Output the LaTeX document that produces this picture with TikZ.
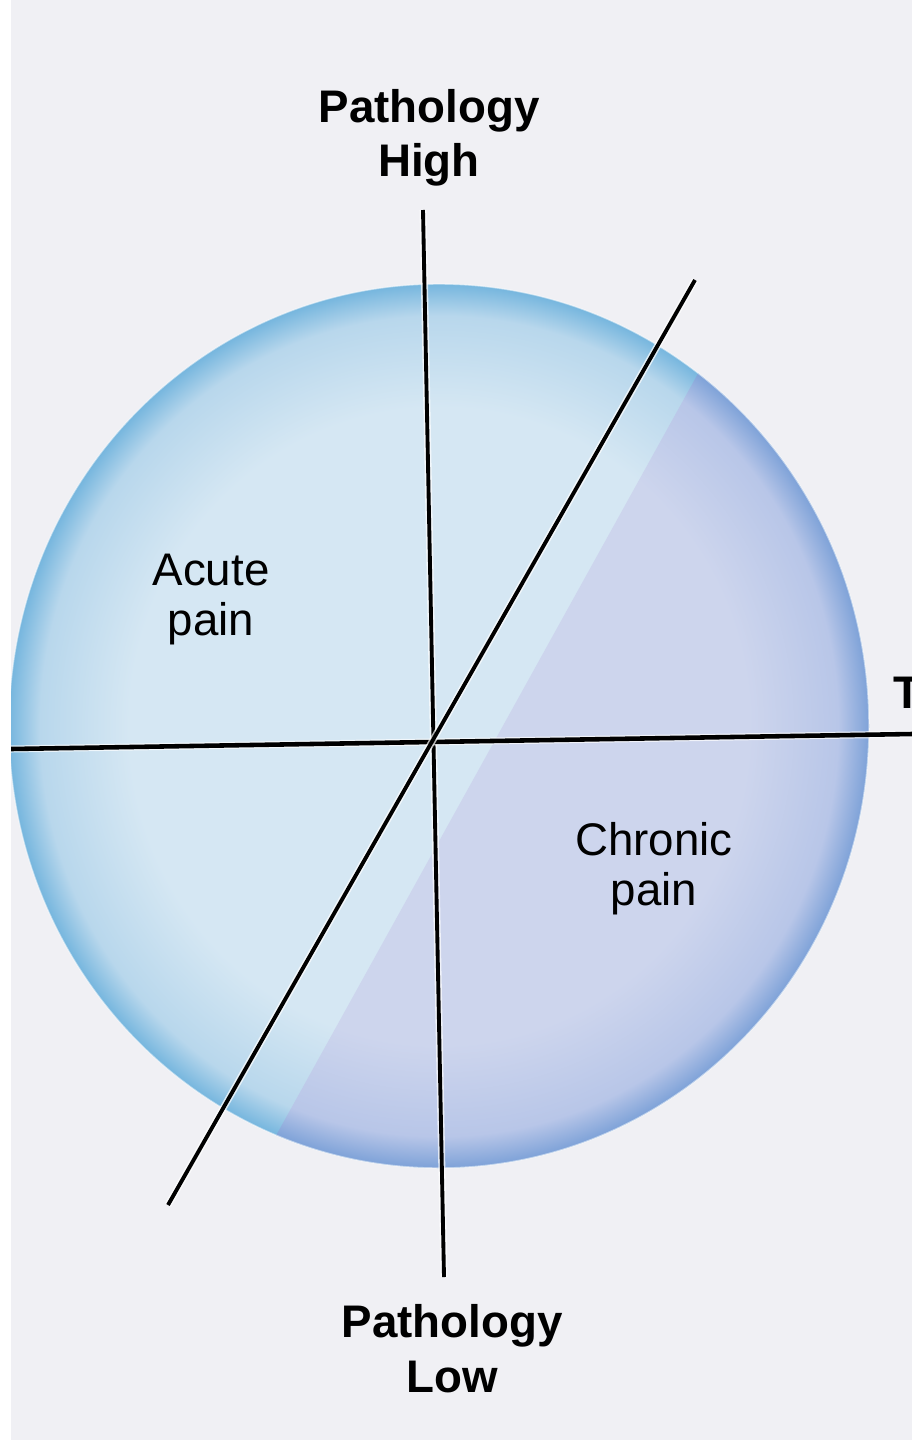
\documentclass[tikz,border=0pt]{standalone}
\usepackage{fontspec}
\setmainfont{Liberation Sans}
\usepackage{xcolor}
\definecolor{paper}{RGB}{240,240,244}
\definecolor{acutein}{RGB}{213,231,243}
\definecolor{acutemid}{RGB}{184,215,236}
\definecolor{acuterim}{RGB}{118,182,222}
\definecolor{chronin}{RGB}{205,213,237}
\definecolor{chronmid}{RGB}{184,198,232}
\definecolor{chronrim}{RGB}{126,162,216}
\pgfdeclareradialshading{acutedisc}{\pgfpoint{0bp}{0bp}}{color(0bp)=(acutein); color(18bp)=(acutein); color(23.2bp)=(acutemid); color(25bp)=(acuterim); color(50bp)=(acuterim)}
\pgfdeclareradialshading{chronicdisc}{\pgfpoint{0bp}{0bp}}{color(0bp)=(chronin); color(18bp)=(chronin); color(23.2bp)=(chronmid); color(25bp)=(chronrim); color(50bp)=(chronrim)}

\begin{document}
\begin{tikzpicture}[x=0.02cm, y=-0.02cm,
  axis/.style={line width=2.2pt, preaction={draw=white, line width=4pt, opacity=0.7}},
  heading/.style={font=\fontsize{26}{31.3}\selectfont\bfseries, text width=6cm, align=center, anchor=base, inner sep=0pt},
  region/.style={font=\fontsize{26}{29}\selectfont, text width=4cm, align=center, anchor=base, inner sep=0pt}]
\useasboundingbox (0,0) rectangle (912,1440);
\fill[paper] (0,0) rectangle (912,1440);

% Disc
\shade[shading=acutedisc] (439,726) ellipse [x radius=430, y radius=442];
\begin{scope}
  \clip (896,16) -- (72,1504) -- (1000,1504) -- (1000,16) -- cycle;
  \shade[shading=chronicdisc] (439,726) ellipse [x radius=430, y radius=442];
\end{scope}
\draw[white, opacity=0.5, line width=0.8pt] (439,726) ellipse [x radius=430, y radius=442];

% Axes
\coordinate (vtop) at (423,210);
\coordinate (vbot) at (444,1277);
\coordinate (hleft) at (11,749);
\coordinate (hright) at (912,734);
\coordinate (dtop) at (695,280);
\coordinate (dbot) at (168,1205);
\draw[axis] (vtop) -- (vbot);
\draw[axis, line width=2.6pt] (hleft) -- (hright);
\draw[axis] (dtop) -- (dbot);

% scan edge
\fill[white] (0,0) rectangle (11,1440);

% Labels
\node[heading] (pathhigh) at (429,122) {Pathology\\High};
\node[heading] (pathlow) at (452,1337) {Pathology\\Low};
\node[region] (acute) at (211,585) {Acute\\pain};
\node[region] (chronic) at (654,855) {Chronic\\pain};
\node[font=\fontsize{26}{31.3}\selectfont\bfseries, anchor=base west, inner sep=0pt] (timecut) at (893,708) {T};
\end{tikzpicture}
\end{document}
